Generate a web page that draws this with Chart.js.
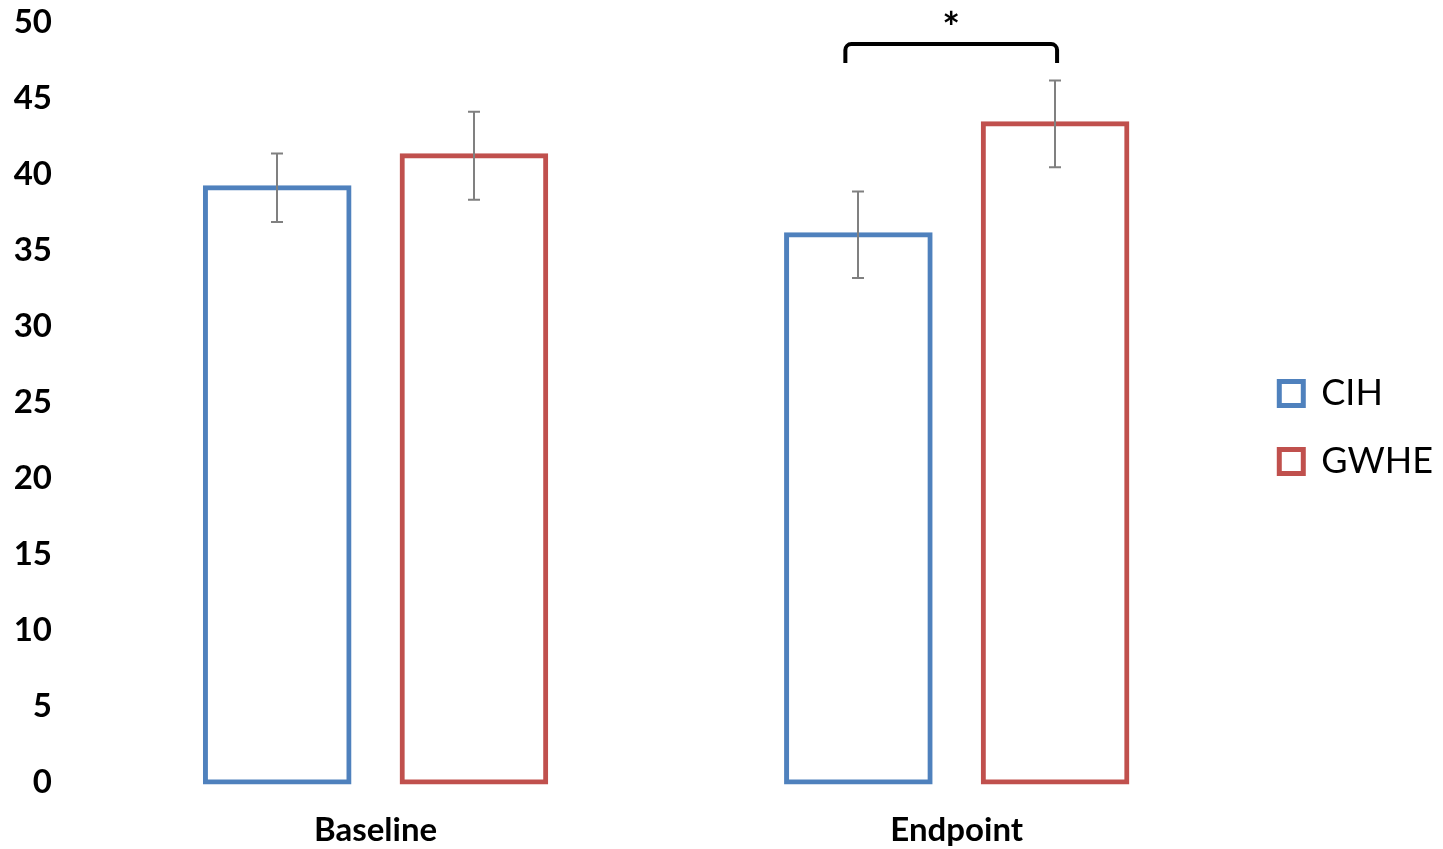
<!DOCTYPE html>
<html>
<head>
<meta charset="utf-8">
<script src="https://cdn.jsdelivr.net/npm/chart.js@4"></script>
<style>
  html, body { margin: 0; padding: 0; background: #fff; }
  #wrap { width: 1443px; height: 849px; }
</style>
</head>
<body>
<div id="wrap"><canvas id="chart"></canvas></div>
<script>
// groups and series
const groups = ["Baseline", "Endpoint"];
const cihMean = [39.1, 36.0];
const cihErr = [2.25, 2.85];
const gwheMean = [41.2, 43.3];
const gwheErr = [2.9, 2.85];
const yTicks = [0, 5, 10, 15, 20, 25, 30, 35, 40, 45, 50];

// significance bracket between the two Endpoint bars
const sigGroup = 1;
const sigTop = 48.55;
const sigDrop = 1.25;
const sigLabel = "*";

const BLUE = "#4F81BD";
const RED = "#C0504D";
const GREY = "#808080";

// error bars drawn on top of each bar
const errorBars = {
  id: "errorBars",
  afterDatasetsDraw(chart) {
    const ctx = chart.ctx;
    const y = chart.scales.y;
    ctx.save();
    ctx.strokeStyle = GREY;
    ctx.lineWidth = 2;
    chart.data.datasets.forEach((ds, di) => {
      const meta = chart.getDatasetMeta(di);
      meta.data.forEach((bar, i) => {
        const hi = y.getPixelForValue(ds.data[i] + ds.errors[i]);
        const lo = y.getPixelForValue(ds.data[i] - ds.errors[i]);
        const x = Math.round(bar.x);
        ctx.beginPath();
        ctx.moveTo(x, hi); ctx.lineTo(x, lo);
        ctx.moveTo(x - 6, hi); ctx.lineTo(x + 6, hi);
        ctx.moveTo(x - 6, lo); ctx.lineTo(x + 6, lo);
        ctx.stroke();
      });
    });
    ctx.restore();
  }
};

const sigBracket = {
  id: "sigBracket",
  afterDatasetsDraw(chart) {
    const ctx = chart.ctx;
    const y = chart.scales.y;
    const a = chart.getDatasetMeta(0).data[sigGroup];
    const b = chart.getDatasetMeta(1).data[sigGroup];
    const left = a.x - 13, right = b.x + 2;
    const top = y.getPixelForValue(sigTop);
    const bottom = y.getPixelForValue(sigTop - sigDrop);
    const r = 6;
    ctx.save();
    ctx.strokeStyle = "#000";
    ctx.lineWidth = 4;
    ctx.beginPath();
    ctx.moveTo(left, bottom);
    ctx.arcTo(left, top, left + r, top, r);
    ctx.arcTo(right, top, right, top + r, r);
    ctx.lineTo(right, bottom);
    ctx.stroke();
    ctx.fillStyle = "#000";
    ctx.font = "bold 42px Lato";
    ctx.textAlign = "center";
    ctx.textBaseline = "middle";
    ctx.fillText(sigLabel, (left + right) / 2, top - 15);
    ctx.restore();
  }
};

const barStyle = {
  backgroundColor: "#ffffff",
  borderWidth: 5,
  borderSkipped: false,
  inflateAmount: 2.5,
  clip: false,
  categoryPercentage: 0.677,
  barPercentage: 0.73
};

new Chart(document.getElementById("chart"), {
  type: "bar",
  data: {
    labels: groups,
    datasets: [
      Object.assign({ label: "CIH", data: cihMean, errors: cihErr, borderColor: BLUE }, barStyle),
      Object.assign({ label: "GWHE", data: gwheMean, errors: gwheErr, borderColor: RED }, barStyle)
    ]
  },
  options: {
    responsive: true,
    maintainAspectRatio: false,
    animation: false,
    events: [],
    layout: { padding: { top: 6, left: 0, right: 0, bottom: 0 } },
    scales: {
      x: {
        grid: { display: false, drawTicks: false },
        border: { display: false },
        ticks: { color: "#000", padding: 29, font: { family: "Lato", weight: "bold", size: 33 } },
        afterFit(scale) { scale.height = 67; scale.paddingLeft = 0; scale.paddingRight = 0; }
      },
      y: {
        min: 0,
        max: 50,
        afterBuildTicks(scale) { scale.ticks = yTicks.map(v => ({ value: v })); },
        grid: { display: false, drawTicks: true, tickLength: 30 },
        border: { display: false },
        ticks: { color: "#000", padding: 3, font: { family: "Lato", weight: "bold", size: 33 } },
        afterFit(scale) { scale.width = 85; scale.paddingTop = 22; scale.paddingBottom = 0; }
      }
    },
    plugins: {
      tooltip: { enabled: false },
      legend: {
        position: "right",
        labels: {
          color: "#000",
          boxWidth: 24,
          boxHeight: 24,
          padding: 32,
          font: { family: "Lato", size: 36 }
        }
      }
    }
  },
  plugins: [errorBars, sigBracket]
});
</script>
</body>
</html>
